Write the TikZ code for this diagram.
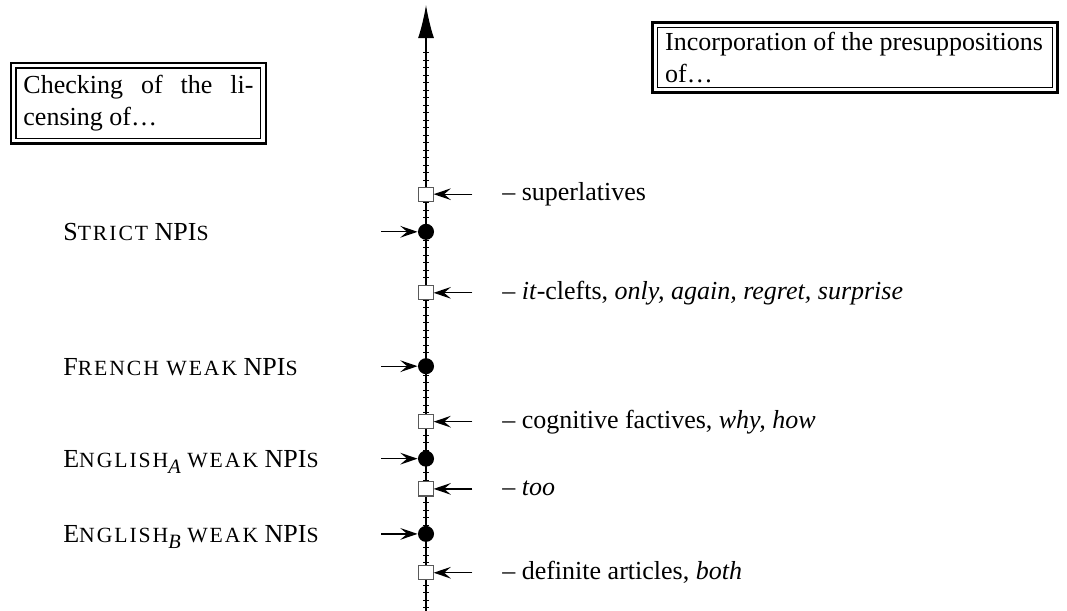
\documentclass[tikz,border=0pt]{standalone}
\usepackage{fontspec}
\setmainfont{Liberation Serif}
\newfontfamily\spacedserif[LetterSpace=9]{Liberation Serif}
\usetikzlibrary{arrows.meta}
\newcommand\smc[1]{{\spacedserif\fontsize{10pt}{11pt}\selectfont #1}}
\newcommand\lowidx[1]{\raisebox{-0.5ex}{{\fontsize{9.4pt}{11pt}\selectfont\itshape #1}}}
\begin{document}
\begin{tikzpicture}[font=\fontsize{12pt}{14.5pt}\selectfont,
  npi/.style={circle,fill,inner sep=0pt,minimum size=2.6mm},
  presup/.style={rectangle,draw=black!65,line width=0.5pt,fill=white,inner sep=0pt,minimum size=2.3mm},
  pointer/.style={line width=0.6pt,-{Stealth[length=2.8mm,width=1.9mm,inset=1.1mm]}},
  lefttxt/.style={anchor=base west,inner sep=0pt},
  righttxt/.style={anchor=base west,inner sep=0pt},
  framebox/.style={draw,line width=0.6pt,align=justify,inner sep=0.12cm}]
\useasboundingbox (0,0) rectangle (17.307,9.910);
\foreach \t in {0,...,74} \draw[line width=0.5pt] (6.865,0.05+\t*0.1217) -- (6.955,0.05+\t*0.1217);
\draw[line width=0.6pt,-{Latex[length=5.4mm,width=2.6mm]}] (6.91,0) -- (6.91,9.83);
\node[framebox,text width=3.73cm] (licbox) at (2.245,8.236) {\makebox[\linewidth][s]{Checking of the li-}\\censing of\ldots};
\draw[line width=1.2pt] ([shift={(-0.072,0.072)}]licbox.north west) rectangle ([shift={(0.072,-0.072)}]licbox.south east);
\node[framebox,text width=6.16cm,inner ysep=0.08cm] (incbox) at (13.87,8.976) {Incorporation of the presuppositions\\of\ldots};
\draw[line width=1.2pt] ([shift={(-0.072,0.072)}]incbox.north west) rectangle ([shift={(0.072,-0.072)}]incbox.south east);
\node[presup] (sup) at (6.91,6.76) {};
\node[npi] (strict) at (6.91,6.15) {};
\node[presup] (cleft) at (6.91,5.16) {};
\node[npi] (french) at (6.91,3.97) {};
\node[presup] (cogn) at (6.91,3.07) {};
\node[npi] (enga) at (6.91,2.47) {};
\node[presup] (too) at (6.91,1.98) {};
\node[npi] (engb) at (6.91,1.25) {};
\node[presup] (defart) at (6.91,0.62) {};
\coordinate (sup') at (7.66,6.76);
\coordinate (cleft') at (7.66,5.16);
\coordinate (cogn') at (7.66,3.07);
\coordinate (too') at (7.66,1.98);
\coordinate (defart') at (7.66,0.62);
\coordinate (strict') at (6.18,6.15);
\coordinate (french') at (6.18,3.97);
\coordinate (enga') at (6.18,2.47);
\coordinate (engb') at (6.18,1.25);
\draw[pointer] (sup') -- (sup);
\draw[pointer] (cleft') -- (cleft);
\draw[pointer] (cogn') -- (cogn);
\draw[pointer] (too') -- (too);
\draw[pointer] (defart') -- (defart);
\draw[pointer] (strict') -- (strict);
\draw[pointer] (french') -- (french);
\draw[pointer] (enga') -- (enga);
\draw[pointer] (engb') -- (engb);
\node[lefttxt] (strictlbl) at (1.02,6.005) {S\smc{TRICT} NPI\smc{S}};
\node[lefttxt] (frenchlbl) at (1.02,3.825) {F\smc{RENCH WEAK} NPI\smc{S}};
\node[lefttxt] (engalbl) at (1.02,2.325) {E\smc{NGLISH}\lowidx{A} \smc{WEAK} NPI\smc{S}};
\node[lefttxt] (engblbl) at (1.02,1.105) {E\smc{NGLISH}\lowidx{B} \smc{WEAK} NPI\smc{S}};
\node[righttxt] (suplbl) at (8.14,6.65) {-- superlatives};
\node[righttxt] (cleftlbl) at (8.14,5.05) {-- \textit{it}-clefts, \textit{only, again, regret, surprise}};
\node[righttxt] (cognlbl) at (8.14,2.96) {-- cognitive factives, \textit{why, how}};
\node[righttxt] (toolbl) at (8.14,1.87) {-- \textit{too}};
\node[righttxt] (defartlbl) at (8.14,0.51) {-- definite articles, \textit{both}};
\end{tikzpicture}
\end{document}
